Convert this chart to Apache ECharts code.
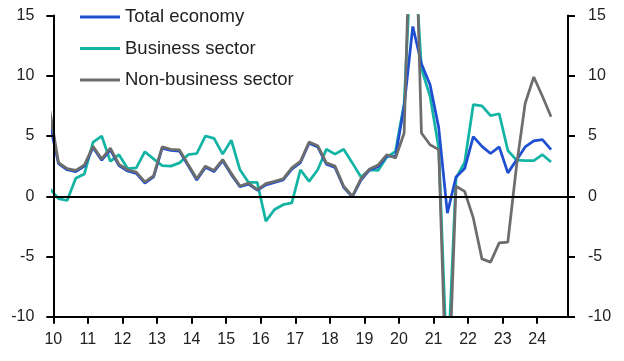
<!DOCTYPE html>
<html><head><meta charset="utf-8">
<script src="https://cdn.jsdelivr.net/npm/echarts@6/dist/echarts.min.js"></script>
<style>html,body{margin:0;padding:0;background:#fff}#c{width:624px;height:361px}</style>
</head><body><div id="c"></div>
<script>
const quarters = [
 '2009Q4',
 '2010Q1','2010Q2','2010Q3','2010Q4','2011Q1','2011Q2','2011Q3','2011Q4',
 '2012Q1','2012Q2','2012Q3','2012Q4','2013Q1','2013Q2','2013Q3','2013Q4',
 '2014Q1','2014Q2','2014Q3','2014Q4','2015Q1','2015Q2','2015Q3','2015Q4',
 '2016Q1','2016Q2','2016Q3','2016Q4','2017Q1','2017Q2','2017Q3','2017Q4',
 '2018Q1','2018Q2','2018Q3','2018Q4','2019Q1','2019Q2','2019Q3','2019Q4',
 '2020Q1','2020Q2','2020Q3','2020Q4','2021Q1','2021Q2','2021Q3','2021Q4',
 '2022Q1','2022Q2','2022Q3','2022Q4','2023Q1','2023Q2','2023Q3','2023Q4',
 '2024Q1','2024Q2'
];
const totalEconomy = [
 6.0,
 2.7, 2.2, 2.05, 2.5, 4.05, 3.0, 3.85, 2.55,
 2.1, 1.9, 1.1, 1.6, 4.0, 3.8, 3.75, 2.55,
 1.35, 2.4, 2.05, 2.95, 1.8, 0.8, 1.0, 0.5,
 0.95, 1.15, 1.35, 2.25, 2.8, 4.4, 4.1, 2.67,
 2.4, 0.75, -0.05, 1.35, 2.2, 2.45, 3.35, 3.3,
 7.5, 14.1, 11.0, 9.25, 5.7, -1.4, 1.6, 2.3,
 4.95, 4.14, 3.55, 4.1, 1.94, 3.0, 4.1, 4.6,
 4.7, 3.87
];
const businessSector = [
 0.63,
 -0.2, -0.35, 1.5, 1.85, 4.5, 5.0, 2.9, 3.45,
 2.3, 2.35, 3.7, 3.1, 2.55, 2.5, 2.77, 3.45,
 3.55, 5.0, 4.8, 3.5, 4.65, 2.2, 1.15, 1.15,
 -2.07, -1.1, -0.7, -0.55, 2.2, 1.24, 2.2, 3.9,
 3.5, 3.9, 2.77, 1.6, 2.2, 2.15, 3.25, 3.73,
 7.7, 22.7, 10.6, 8.3, 4.0, -15, 1.5, 2.8,
 7.6, 7.5, 6.7, 6.85, 3.8, 3.0, 2.95, 2.95,
 3.45, 2.85
];
const nonBusinessSector = [
 7.1,
 2.8, 2.3, 2.15, 2.6, 4.15, 3.1, 4.0, 2.65,
 2.2, 2.0, 1.2, 1.7, 4.1, 3.9, 3.85, 2.65,
 1.45, 2.5, 2.15, 3.05, 1.9, 0.85, 1.1, 0.55,
 1.05, 1.24, 1.44, 2.35, 2.9, 4.5, 4.2, 2.77,
 2.5, 0.83, 0.0, 1.44, 2.27, 2.6, 3.45, 3.18,
 5.25, 31, 5.25, 4.28, 3.87, -19, 0.83, 0.41,
 -1.8, -5.2, -5.47, -3.87, -3.8, 2.5, 7.7, 9.9,
 8.3, 6.6
];
const yearTicks = [2010,2011,2012,2013,2014,2015,2016,2017,2018,2019,2020,2021,2022,2023,2024];
const seriesNames = ['Total economy','Business sector','Non-business sector'];

function qx(label){ const y = +label.slice(0,4), q = +label.slice(5); return y + 0.15 + 0.25*(q-1); }
const pairs = arr => arr.map((v,i) => [qx(quarters[i]), v]);

const axisFont = {fontFamily:'Liberation Sans', fontSize:16, color:'#222'};
const blackLine = {show:true, lineStyle:{color:'#000', width:2}};
function yAx(pos, margin){
  return {type:'value', position:pos, min:-10, max:15, interval:5, z:10,
    axisLine:blackLine,
    axisTick:{show:true, inside:false, length:7, lineStyle:{color:'#000', width:2}},
    axisLabel:Object.assign({margin:margin}, axisFont),
    splitLine:{show:false}};
}
const chart = echarts.init(document.getElementById('c'), null, {renderer:'canvas'});
chart.setOption({
  animation:false,
  backgroundColor:'#fff',
  grid:{left:53.3, right:56, top:15.6, bottom:44.3, containLabel:false},
  legend:{data:seriesNames, orient:'vertical', left:80, top:6, padding:0,
    itemWidth:40, itemHeight:3, icon:'rect', itemGap:9.5,
    textStyle:{fontFamily:'Liberation Sans', fontSize:18.5, color:'#222', lineHeight:22}},
  xAxis:{type:'value', min:2010, max:2024.89, z:10,
    axisLine:{show:true, onZero:false, lineStyle:{color:'#000', width:2}},
    axisTick:{show:true, customValues:yearTicks, length:7, lineStyle:{color:'#000', width:2}},
    axisLabel:Object.assign({customValues:yearTicks, margin:15, formatter:v => String(Math.round(v) - 2000)}, axisFont),
    splitLine:{show:false}},
  yAxis:[yAx('left', 19), yAx('right', 20)],
  series:[
    {name:'Business sector', type:'line', data:pairs(businessSector), showSymbol:false, clip:true,
      lineStyle:{width:2.75, color:'#14b4a4'}, itemStyle:{color:'#14b4a4'},
      markLine:{silent:true, symbol:['none','none'], label:{show:false},
        lineStyle:{color:'#000', width:2, type:'solid'}, data:[{yAxis:0}]}},
    {name:'Total economy', type:'line', data:pairs(totalEconomy), showSymbol:false, clip:true,
      lineStyle:{width:2.75, color:'#1f4fd1'}, itemStyle:{color:'#1f4fd1'}},
    {name:'Non-business sector', type:'line', data:pairs(nonBusinessSector), showSymbol:false, clip:true,
      lineStyle:{width:2.75, color:'#6d6d6d'}, itemStyle:{color:'#6d6d6d'}}
  ]
});
</script></body></html>
